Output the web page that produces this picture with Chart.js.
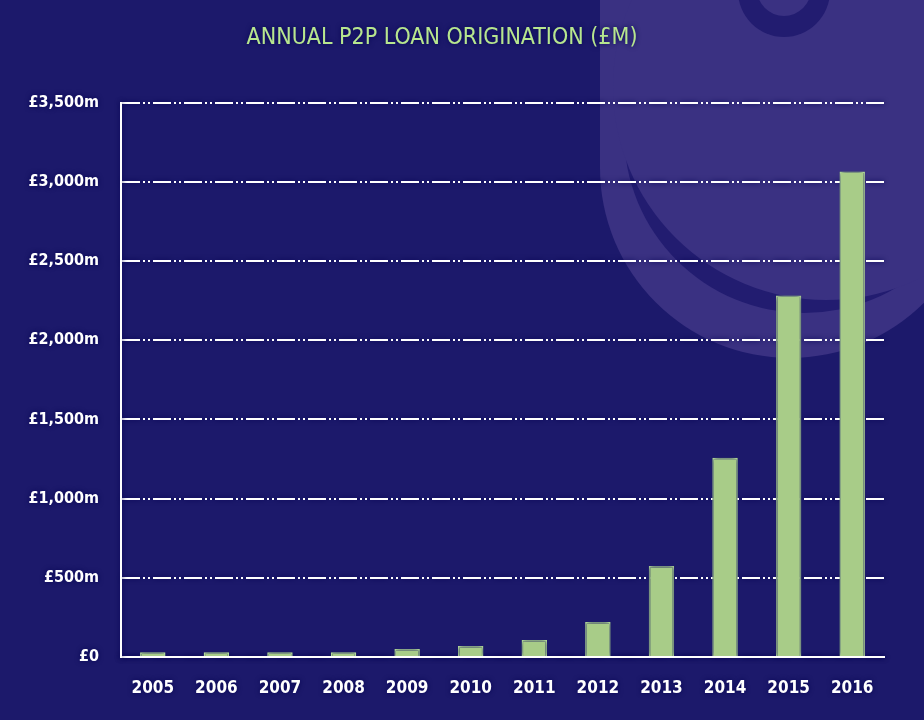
<!DOCTYPE html>
<html>
<head>
<meta charset="utf-8">
<script src="https://cdn.jsdelivr.net/npm/chart.js@4/dist/chart.umd.min.js"></script>
<style>
  html, body { margin: 0; padding: 0; background: #1c196b; }
  #wrap { width: 924px; height: 720px; position: relative; }
</style>
</head>
<body>
<div id="wrap"><canvas id="c" width="924" height="720"></canvas></div>
<script>
const categories = ['2005','2006','2007','2008','2009','2010','2011','2012','2013','2014','2015','2016'];
const originationValues = [30, 30, 30, 30, 50, 70, 107, 221, 575, 1258, 2282, 3065];
const yTickValues = [0, 500, 1000, 1500, 2000, 2500, 3000, 3500];
const yTickLabels = ['£0', '£500m', '£1,000m', '£1,500m', '£2,000m', '£2,500m', '£3,000m', '£3,500m'];
const chartTitle = 'ANNUAL P2P LOAN ORIGINATION (£M)';

const FONT = "'DejaVu Sans Condensed', 'Liberation Sans Narrow', sans-serif";

const backdrop = {
  id: 'backdrop',
  beforeDraw(chart) {
    const ctx = chart.ctx;
    ctx.save();
    ctx.fillStyle = '#1c196b';
    ctx.fillRect(0, 0, chart.width, chart.height);
    // decorative capsule shape
    const capsule = new Path2D();
    capsule.moveTo(600, 0);
    capsule.lineTo(600, 168);
    capsule.arc(790, 168, 190, Math.PI, 0, true);
    capsule.lineTo(980, 0);
    capsule.closePath();
    ctx.fillStyle = '#3a3182';
    ctx.fill(capsule);
    ctx.save();
    ctx.clip(capsule);
    // crescent = dark circle minus lighter circle
    ctx.fillStyle = '#221c70';
    ctx.beginPath();
    ctx.arc(804, 133, 180, 0, Math.PI * 2);
    ctx.fill();
    ctx.fillStyle = '#3a3182';
    ctx.beginPath();
    ctx.arc(826, 87, 213, 0, Math.PI * 2);
    ctx.fill();
    // ring at top
    ctx.fillStyle = '#221c70';
    ctx.beginPath();
    ctx.arc(784, -9, 46, 0, Math.PI * 2);
    ctx.fill();
    ctx.fillStyle = '#3a3182';
    ctx.beginPath();
    ctx.arc(784, -11, 27, 0, Math.PI * 2);
    ctx.fill();
    ctx.restore();
    ctx.restore();
    ctx.shadowColor = 'rgba(5,2,80,0.95)';
    ctx.shadowBlur = 5;
  },
  afterDraw(chart) {
    chart.ctx.shadowColor = 'rgba(0,0,0,0)';
    chart.ctx.shadowBlur = 0;
  }
};

new Chart(document.getElementById('c'), {
  type: 'bar',
  data: {
    labels: categories,
    datasets: [{
      data: originationValues,
      backgroundColor: '#a8cc88',
      borderColor: '#c8f5a0',
      borderWidth: 1.5,
      barPercentage: 0.4,
      categoryPercentage: 1.0
    }]
  },
  plugins: [backdrop],
  options: {
    responsive: false,
    animation: false,
    devicePixelRatio: 1,
    layout: { padding: { left: 0, right: 40, top: 0, bottom: 0 } },
    plugins: {
      legend: { display: false },
      tooltip: { enabled: false },
      title: {
        display: true,
        text: chartTitle,
        color: '#b7e68e',
        font: { family: FONT, size: 23, weight: 'normal' },
        padding: { top: 24, bottom: 51 }
      }
    },
    scales: {
      x: {
        grid: { display: false, drawTicks: false },
        border: { display: true, color: '#ffffff', width: 2 },
        ticks: {
          color: '#ffffff',
          font: { family: FONT, size: 17, weight: 'bold' },
          padding: 21,
          maxRotation: 0
        },
        afterFit(s) { s.height = 63; }
      },
      y: {
        min: 0,
        max: 3500,
        afterBuildTicks(s) { s.ticks = yTickValues.map(v => ({ value: v })); },
        grid: { color: '#ffffff', lineWidth: 2, drawTicks: false },
        border: { display: true, color: '#ffffff', width: 2, dash: [18, 3, 2, 3, 2, 3] },
        ticks: {
          color: '#ffffff',
          font: { family: FONT, size: 16, weight: 'bold' },
          padding: 22,
          callback(v) { const i = yTickValues.indexOf(v); return i >= 0 ? yTickLabels[i] : ''; }
        },
        afterFit(s) { s.width = 121; }
      }
    }
  }
});
</script>
</body>
</html>
